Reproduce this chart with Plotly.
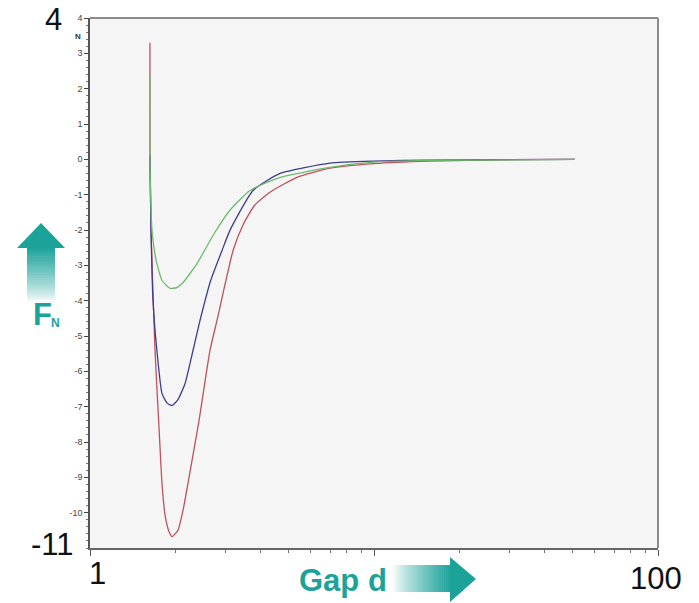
import plotly.graph_objects as go

# ---- data ----
red_x = [1.626, 1.626, 1.64, 1.694, 1.75, 1.793, 1.84, 1.90, 1.944, 2.04, 2.125, 2.232, 2.42, 2.645, 2.80, 3.19, 3.46, 3.8, 4.30, 5.36, 7.0, 10.0, 15.7, 30.0, 51.0]
red_y = [3.3, 0.25, -2.0, -5.41, -7.6, -9.18, -10.1, -10.55, -10.68, -10.5, -9.94, -9.0, -7.4, -5.41, -4.56, -2.58, -1.85, -1.3, -0.93, -0.51, -0.25, -0.12, -0.05, -0.01, 0.0]

blue_x = [1.626, 1.64, 1.667, 1.72, 1.793, 1.87, 1.944, 2.04, 2.16, 2.305, 2.44, 2.66, 2.917, 3.11, 3.75, 4.67, 7.0, 10.0, 15.7, 51.0]
blue_y = [0.1, -2.0, -4.0, -5.41, -6.63, -6.9, -6.97, -6.8, -6.35, -5.41, -4.56, -3.43, -2.58, -2.01, -0.88, -0.40, -0.11, -0.05, -0.02, 0.0]

green_x = [1.626, 1.626, 1.653, 1.71, 1.793, 1.913, 2.02, 2.13, 2.381, 2.75, 3.11, 3.66, 4.67, 7.0, 10.0, 15.7, 51.0]
green_y = [2.4, 0.0, -2.0, -2.86, -3.43, -3.65, -3.63, -3.48, -2.95, -2.07, -1.44, -0.88, -0.51, -0.23, -0.08, -0.03, 0.0]

y_ticks = list(range(-10, 5))
y_ticktext = [str(v) for v in y_ticks]

TEAL = "#1ba39a"

fig = go.Figure()
for xs, ys, col in [(red_x, red_y, "#c0505e"), (blue_x, blue_y, "#3d3d8f"), (green_x, green_y, "#6cbb6c")]:
    fig.add_trace(go.Scatter(x=xs, y=ys, mode="lines",
                             line=dict(color=col, width=1.3, shape="spline", smoothing=0.5),
                             hoverinfo="skip"))

# plot area pixel geometry
L, R, T, B = 90, 658, 18, 548
W, H = R - L, B - T


def px(x):
    return (x - L) / W


def py(y):
    return (B - y) / H


shapes = []
# top and right frame
shapes.append(dict(type="line", xref="paper", yref="paper", x0=0, x1=1, y0=1, y1=1,
                   line=dict(color="#8c8c8c", width=2)))
shapes.append(dict(type="line", xref="paper", yref="paper", x0=1, x1=1, y0=0, y1=1,
                   line=dict(color="#8c8c8c", width=2)))


def mix(t):
    c0 = (255, 255, 255)
    c1 = (27, 163, 154)
    t2 = t ** 0.8
    r = int(c0[0] + (c1[0] - c0[0]) * t2)
    g = int(c0[1] + (c1[1] - c0[1]) * t2)
    b = int(c0[2] + (c1[2] - c0[2]) * t2)
    return f"rgb({r},{g},{b})"


# horizontal gradient arrow (Gap d)
n = 30
sx0, sx1, sy0, sy1 = 393, 451, 565, 592
for i in range(n):
    a = sx0 + (sx1 - sx0) * i / n
    b = sx0 + (sx1 - sx0) * (i + 1) / n + 0.6
    shapes.append(dict(type="rect", xref="paper", yref="paper",
                       x0=px(a), x1=px(b), y0=py(sy1), y1=py(sy0),
                       fillcolor=mix((i + 0.5) / n), line=dict(width=0)))
shapes.append(dict(type="path", xref="paper", yref="paper",
                   path=f"M {px(450)} {py(557)} L {px(476)} {py(579)} L {px(450)} {py(602)} Z",
                   fillcolor=TEAL, line=dict(width=0)))

# vertical gradient arrow (F_N)
vx0, vx1, vy0, vy1 = 27, 55, 247, 302
for i in range(n):
    a = vy0 + (vy1 - vy0) * i / n
    b = vy0 + (vy1 - vy0) * (i + 1) / n + 0.6
    shapes.append(dict(type="rect", xref="paper", yref="paper",
                       x0=px(vx0), x1=px(vx1), y0=py(b), y1=py(a),
                       fillcolor=mix(1 - (i + 0.5) / n), line=dict(width=0)))
shapes.append(dict(type="path", xref="paper", yref="paper",
                   path=f"M {px(17)} {py(248)} L {px(41)} {py(223)} L {px(65)} {py(248)} Z",
                   fillcolor=TEAL, line=dict(width=0)))

big = dict(family="Liberation Sans, Arial", size=31, color="#111111")
annotations = [
    dict(text="4", xref="paper", yref="paper", x=px(64), y=py(19), xanchor="right", yanchor="middle",
         showarrow=False, font=big),
    dict(text="-11", xref="paper", yref="paper", x=px(76), y=py(544), xanchor="right", yanchor="middle",
         showarrow=False, font=big),
    dict(text="1", xref="paper", yref="paper", x=px(97), y=py(573), xanchor="center", yanchor="middle",
         showarrow=False, font=big),
    dict(text="100", xref="paper", yref="paper", x=px(656), y=py(578), xanchor="center", yanchor="middle",
         showarrow=False, font=big),
    dict(text="<b>Gap d</b>", xref="paper", yref="paper", x=px(297), y=py(580), xanchor="left", yanchor="middle",
         showarrow=False, font=dict(family="Liberation Sans, Arial", size=31, color=TEAL)),
    dict(text="<b>F</b>", xref="paper", yref="paper", x=px(31), y=py(314), xanchor="left", yanchor="middle",
         showarrow=False, font=dict(family="Liberation Sans, Arial", size=31, color=TEAL)),
    dict(text="<b>N</b>", xref="paper", yref="paper", x=px(49), y=py(323), xanchor="left", yanchor="middle",
         showarrow=False, font=dict(family="Liberation Sans, Arial", size=12, color=TEAL)),
    dict(text="<b>N</b>", xref="paper", yref="paper", x=px(83), y=py(36), xanchor="right", yanchor="middle",
         showarrow=False, font=dict(family="Liberation Sans, Arial", size=8, color="#333333")),
]

fig.update_layout(
    width=699, height=603,
    margin=dict(l=L, r=699 - R, t=T, b=603 - B, pad=0),
    paper_bgcolor="white",
    plot_bgcolor="#f5f5f5",
    showlegend=False,
    shapes=shapes,
    annotations=annotations,
    xaxis=dict(type="log", range=[0, 2], showgrid=False, zeroline=False,
               showline=True, linecolor="#666666", linewidth=1.5,
               tickvals=[1, 10, 100], ticks="outside", ticklen=6, tickcolor="#555555",
               showticklabels=False,
               minor=dict(tickvals=[2, 3, 4, 5, 6, 7, 8, 9, 20, 30, 40, 50, 60, 70, 80, 90],
                          ticks="outside", ticklen=3, tickcolor="#777777")),
    yaxis=dict(range=[-11, 4], showgrid=False, zeroline=False,
               showline=True, linecolor="#555555", linewidth=1.5,
               tickvals=y_ticks, ticktext=y_ticktext, ticks="outside", ticklen=4,
               tickcolor="#444444",
               tickfont=dict(family="Liberation Sans, Arial", size=9, color="#444444"),
               minor=dict(dtick=0.2, ticks="outside", ticklen=2, tickcolor="#777777")),
)

fig.write_html("out.html", config={"displayModeBar": False},
               post_script="document.body.style.margin='0';")
